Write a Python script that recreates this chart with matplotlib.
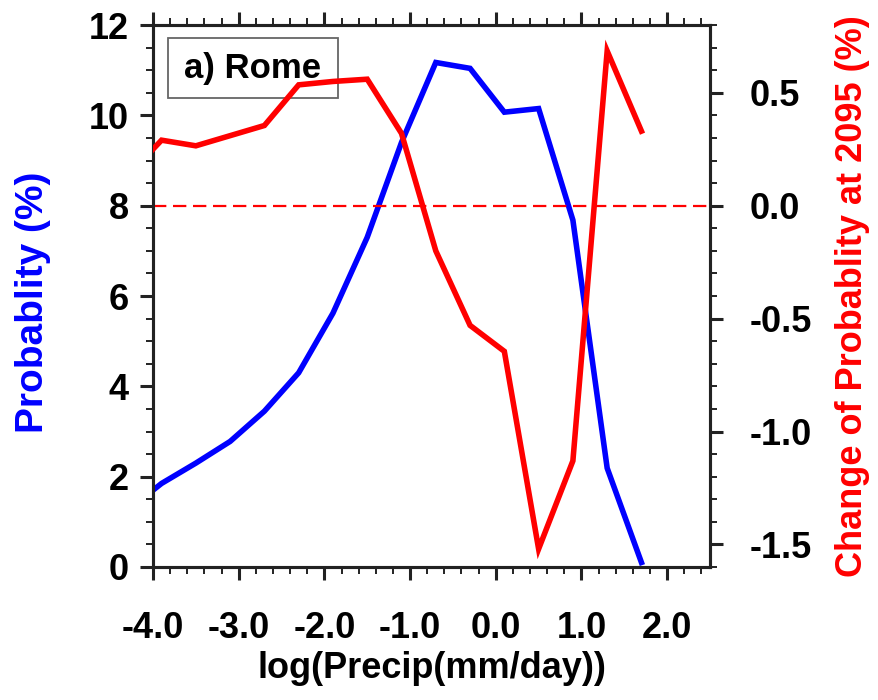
import matplotlib
matplotlib.use("Agg")
import matplotlib.pyplot as plt
from matplotlib.ticker import MultipleLocator
from matplotlib.patches import Rectangle

plt.rcParams['font.family'] = ['Liberation Sans', 'DejaVu Sans']
plt.rcParams['font.weight'] = 'bold'

# Data
log_precip = [-4.0, -3.9, -3.5, -3.1, -2.7, -2.3, -1.9, -1.5, -1.1, -0.7, -0.3, 0.1, 0.5, 0.9, 1.3, 1.7]
probability = [1.70, 1.85, 2.30, 2.78, 3.45, 4.30, 5.62, 7.30, 9.40, 11.17, 11.04, 10.07, 10.15, 7.68, 2.19, 0.10]
change_2095 = [0.25, 0.29, 0.265, 0.31, 0.355, 0.535, 0.55, 0.56, 0.32, -0.20, -0.53, -0.645, -1.52, -1.13, 0.685, 0.33]

x_ticks = [-4.0, -3.0, -2.0, -1.0, 0.0, 1.0, 2.0]
left_ticks = [0, 2, 4, 6, 8, 10, 12]
right_ticks = [-1.5, -1.0, -0.5, 0.0, 0.5]

W, H = 879, 700
fig = plt.figure(figsize=(W / 100, H / 100), dpi=100)
ax = fig.add_axes([153 / W, 1 - 567 / H, (710 - 153) / W, (567 - 25) / H])
ax2 = ax.twinx()

ax.plot(log_precip, probability, color='#0000ff', lw=4.0, solid_joinstyle='miter', zorder=3)
ax2.plot(log_precip, change_2095, color='#ff0000', lw=4.0, solid_joinstyle='miter', zorder=3)
ax2.axhline(0.0, color='#ff0000', lw=1.6, ls=(0, (6, 3)), zorder=2)

ax.set_xlim(-4.0, 2.5)
ax.set_ylim(0, 12)
ax2.set_ylim(-1.6, 0.8)

ax.set_xticks(x_ticks)
ax.set_xticklabels([f"{v:.1f}" for v in x_ticks])
ax.xaxis.set_minor_locator(MultipleLocator(0.2))
ax.set_yticks(left_ticks)
ax.yaxis.set_minor_locator(MultipleLocator(0.5))
ax2.set_yticks(right_ticks)
ax2.set_yticklabels([f"{v:.1f}" for v in right_ticks])
ax2.yaxis.set_minor_locator(MultipleLocator(0.1))

for a in (ax, ax2):
    for s in a.spines.values():
        s.set_linewidth(2.2)
        s.set_color('#222222')

TS = 26
ax.tick_params(axis='x', which='both', direction='out', top=True, bottom=True,
               labelsize=TS, pad=22, colors='#222222', labelcolor='black')
ax.tick_params(axis='x', which='major', length=9.5, width=2.2)
ax.tick_params(axis='x', which='minor', length=5, width=1.4)
ax.tick_params(axis='y', which='both', direction='out', left=True, right=False,
               labelsize=TS, pad=8, colors='#222222', labelcolor='black')
ax.tick_params(axis='y', which='major', length=9.5, width=2.2)
ax.tick_params(axis='y', which='minor', length=5, width=1.4)
ax2.tick_params(axis='y', which='both', direction='out', right=True,
                labelsize=TS, pad=19, colors='#222222', labelcolor='black')
ax2.tick_params(axis='y', which='major', length=9.5, width=2.2)
ax2.tick_params(axis='y', which='minor', length=5, width=1.4)

for lab in ax.get_xticklabels() + ax.get_yticklabels() + ax2.get_yticklabels():
    lab.set_fontweight('bold')

ax.set_xlabel('log(Precip(mm/day))', fontsize=26, fontweight='bold')
ax.xaxis.label.set_va('center')
ax.xaxis.set_label_coords(432 / W, 1 - 668 / H, transform=fig.transFigure)

ax.set_ylabel('Probablity (%)', fontsize=28, fontweight='bold', color='#0000ff')
ax.yaxis.label.set_va('center')
ax.yaxis.set_label_coords(33 / W, 1 - 302 / H, transform=fig.transFigure)

ax2.set_ylabel('Change of Probablity at 2095 (%)', fontsize=26, fontweight='bold',
               color='#ff0000')
ax2.yaxis.label.set_va('center')
ax2.yaxis.set_label_coords(853 / W, 1 - 296 / H, transform=fig.transFigure)

# title box
bx0, bx1, by0, by1 = 168, 338, 38, 98
ax.add_patch(Rectangle(((bx0 - 153) / 557, (567 - by1) / 542), (bx1 - bx0) / 557, (by1 - by0) / 542,
                       transform=ax.transAxes, facecolor='white', edgecolor='#666666',
                       lw=1.3, zorder=4))
ax.text((253 - 153) / 557, (567 - 68) / 542, 'a) Rome', transform=ax.transAxes, fontsize=25,
        fontweight='bold', va='center', ha='center', zorder=5)

ax2.set_zorder(ax.get_zorder() + 1)
ax.patch.set_visible(True)
ax2.patch.set_visible(False)

fig.savefig('out.png', dpi=100)
